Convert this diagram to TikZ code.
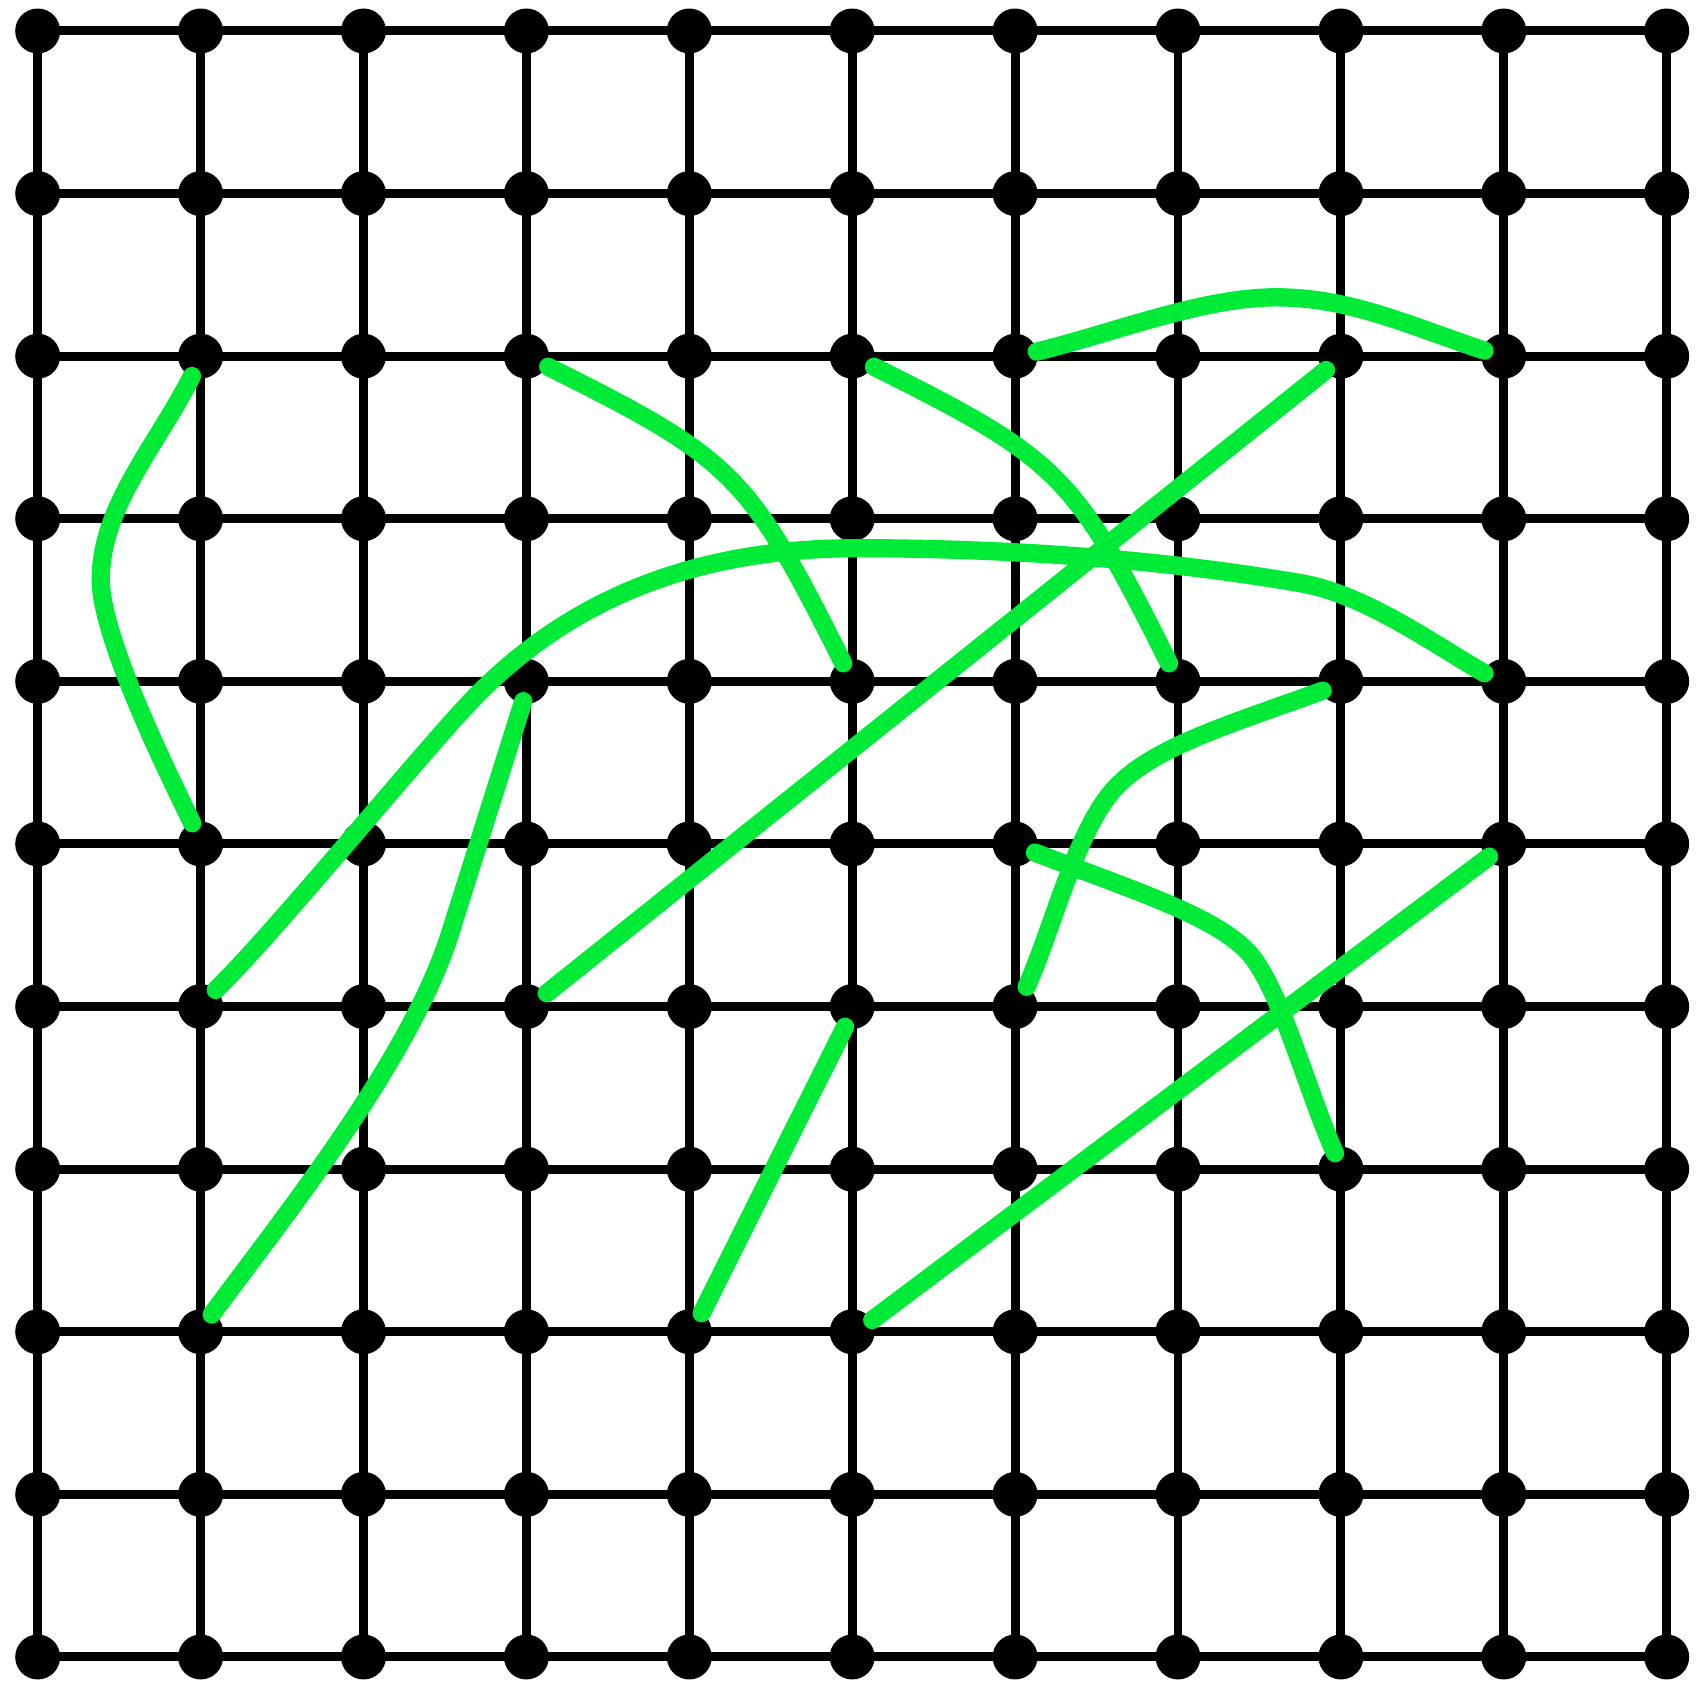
\documentclass[tikz,border=0pt]{standalone}
\definecolor{pathgreen}{RGB}{0,235,55}
\begin{document}
\begin{tikzpicture}[x=1cm,y=0.99816cm,
  dot/.style={circle,fill=black,inner sep=0pt,minimum size=0.276cm},
  gridline/.style={line width=1.57pt},
  route/.style={draw=pathgreen,line width=3.2pt,line cap=round,line join=round}]
\useasboundingbox (-0.2314,0.1907) rectangle (10.186,-10.154);
% grid points
\foreach \i in {0,...,10}
  \foreach \j in {0,...,10}
    \coordinate (p-\i-\j) at (\i,-\j);
% grid lines
\foreach \k in {0,...,10} {
  \draw[gridline] (p-0-\k) -- (p-10-\k);
  \draw[gridline] (p-\k-0) -- (p-\k-10);
}
% grid nodes
\foreach \i in {0,...,10}
  \foreach \j in {0,...,10}
    \node[dot] (n-\i-\j) at (p-\i-\j) {};
% green routes
\draw[route] (0.947,-2.122) .. controls (0.72,-2.567) and (0.387,-2.926) .. (0.387,-3.376)
  .. controls (0.387,-3.726) and (0.796,-4.558) .. (0.949,-4.873);
\draw[route] (1.093,-5.898) .. controls (1.45,-5.548) and (2.287,-4.523) .. (2.627,-4.156)
  .. controls (3.239,-3.496) and (4.029,-3.181) .. (5.029,-3.181)
  .. controls (5.929,-3.181) and (6.872,-3.244) .. (7.758,-3.397)
  .. controls (8.152,-3.465) and (8.578,-3.777) .. (8.882,-3.95);
\draw[route] (2.981,-4.122) -- (2.531,-5.552)
  .. controls (2.290,-6.315) and (1.544,-7.251) .. (1.068,-7.894);
\draw[route] (3.125,-5.918) -- (7.909,-2.085);
\draw[route] (3.134,-2.065) .. controls (4.273,-2.634) and (4.364,-2.726) .. (4.945,-3.889);
\draw[route] (5.134,-2.065) .. controls (6.273,-2.634) and (6.364,-2.726) .. (6.945,-3.889);
\draw[route] (6.133,-1.972) .. controls (6.619,-1.852) and (7.152,-1.638) .. (7.602,-1.638)
  .. controls (8.052,-1.638) and (8.408,-1.807) .. (8.882,-1.966);
\draw[route] (7.888,-4.057) .. controls (7.325,-4.263) and (6.834,-4.405) .. (6.603,-4.668)
  .. controls (6.372,-4.931) and (6.233,-5.512) .. (6.071,-5.878);
\draw[route] (6.122,-5.053) .. controls (6.776,-5.303) and (7.282,-5.463) .. (7.462,-5.703)
  .. controls (7.642,-5.943) and (7.801,-6.537) .. (7.964,-6.902);
\draw[route] (5.123,-7.928) -- (8.91,-5.078);
\draw[route] (4.076,-7.886) -- (4.956,-6.124);
\end{tikzpicture}
\end{document}
